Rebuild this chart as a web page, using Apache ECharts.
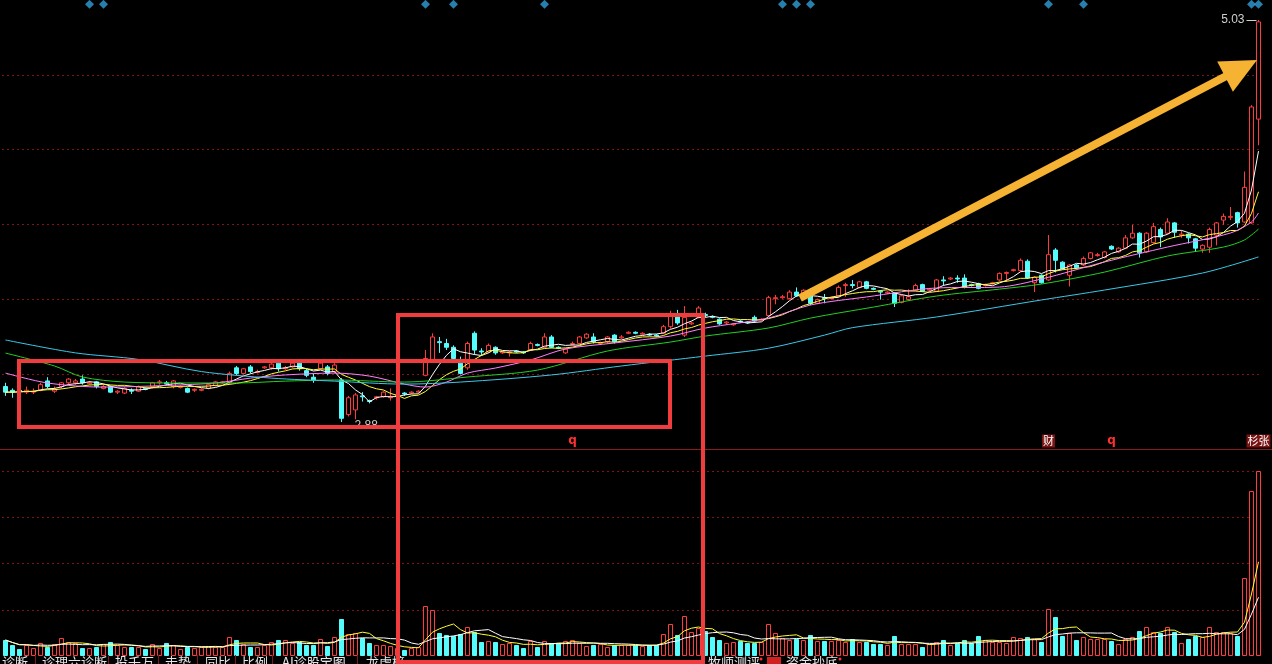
<!DOCTYPE html>
<html><head><meta charset="utf-8">
<script src="https://cdn.jsdelivr.net/npm/echarts@6/dist/echarts.min.js"></script>
<style>html,body{margin:0;padding:0;background:#000;overflow:hidden}#c{width:1272px;height:664px}</style>
</head><body><div id="c"></div>
<script>
// ---- price data (open / close / low / high) ----
const opens = [3.07,3.05,3.05,3.04,3.04,3.05,3.10,3.045,3.07,3.09,3.09,3.11,3.085,3.095,3.06,3.07,3.04,3.035,3.05,3.045,
3.06,3.07,3.09,3.09,3.07,3.065,3.06,3.05,3.05,3.06,3.075,3.09,3.09,3.17,3.14,3.175,3.145,3.17,3.17,3.195,
3.165,3.175,3.195,3.155,3.12,3.165,3.175,3.15,3.105,2.92,2.945,3.02,2.995,3.01,3.015,3.01,3.02,3.035,3.035,3.04,
3.13,3.215,3.31,3.30,3.28,3.195,3.17,3.355,3.26,3.255,3.28,3.25,3.25,3.26,3.255,3.265,3.295,3.28,3.335,3.28,
3.25,3.295,3.30,3.33,3.335,3.30,3.31,3.345,3.33,3.355,3.36,3.35,3.35,3.345,3.355,3.39,3.45,3.345,3.405,3.44,
3.455,3.445,3.43,3.41,3.40,3.42,3.415,3.44,3.425,3.45,3.54,3.545,3.54,3.575,3.545,3.585,3.515,3.545,3.54,3.555,
3.61,3.615,3.60,3.63,3.595,3.58,3.57,3.57,3.52,3.535,3.585,3.615,3.585,3.58,3.64,3.645,3.65,3.65,3.615,3.62,
3.61,3.62,3.64,3.675,3.69,3.69,3.74,3.625,3.665,3.64,3.80,3.735,3.665,3.72,3.72,3.755,3.77,3.76,3.82,3.79,
3.81,3.865,3.89,3.79,3.84,3.91,3.89,3.945,3.88,3.885,3.86,3.805,3.815,3.88,3.96,3.975,4.00,3.95,3.945,4.50];
const closes = [3.04,3.04,3.045,3.05,3.045,3.08,3.07,3.055,3.09,3.11,3.10,3.09,3.09,3.07,3.07,3.04,3.045,3.06,3.045,3.07,
3.055,3.09,3.095,3.085,3.10,3.07,3.04,3.055,3.055,3.08,3.095,3.095,3.14,3.14,3.165,3.15,3.15,3.175,3.19,3.165,
3.17,3.195,3.165,3.13,3.105,3.195,3.14,3.185,2.90,3.01,3.025,3.015,2.99,3.015,3.04,3.015,3.025,3.03,3.04,3.045,
3.22,3.335,3.305,3.28,3.22,3.14,3.30,3.265,3.255,3.29,3.25,3.255,3.255,3.255,3.25,3.30,3.29,3.335,3.28,3.275,
3.27,3.30,3.335,3.35,3.31,3.305,3.335,3.31,3.335,3.36,3.355,3.355,3.345,3.34,3.39,3.45,3.41,3.44,3.41,3.49,
3.45,3.44,3.405,3.415,3.405,3.415,3.41,3.42,3.43,3.545,3.545,3.55,3.575,3.555,3.585,3.515,3.535,3.54,3.545,3.60,
3.615,3.61,3.63,3.595,3.59,3.575,3.575,3.515,3.555,3.55,3.61,3.58,3.59,3.64,3.635,3.65,3.645,3.60,3.61,3.595,
3.615,3.625,3.675,3.68,3.695,3.745,3.65,3.655,3.625,3.775,3.745,3.70,3.72,3.705,3.755,3.785,3.775,3.79,3.805,3.81,
3.865,3.89,3.785,3.89,3.925,3.87,3.95,3.895,3.885,3.865,3.81,3.825,3.91,3.945,3.98,3.98,3.945,4.135,4.565,5.02];
const lows = [3.02,3.01,3.03,3.03,3.03,3.045,3.06,3.035,3.06,3.08,3.08,3.08,3.08,3.06,3.055,3.035,3.03,3.03,3.03,3.04,
3.05,3.06,3.08,3.08,3.06,3.06,3.035,3.04,3.045,3.055,3.07,3.085,3.08,3.13,3.135,3.14,3.14,3.165,3.16,3.15,
3.16,3.17,3.155,3.12,3.09,3.16,3.13,3.14,2.88,2.91,2.895,2.99,2.98,3.00,3.01,2.995,3.01,3.02,3.03,3.035,
3.125,3.21,3.25,3.265,3.21,3.135,3.16,3.24,3.235,3.25,3.24,3.245,3.23,3.25,3.245,3.26,3.285,3.275,3.275,3.27,
3.245,3.29,3.295,3.325,3.30,3.295,3.30,3.30,3.325,3.35,3.35,3.345,3.34,3.335,3.35,3.38,3.40,3.335,3.40,3.435,
3.44,3.435,3.40,3.40,3.395,3.41,3.405,3.41,3.42,3.445,3.51,3.54,3.535,3.55,3.54,3.505,3.51,3.515,3.535,3.55,
3.55,3.595,3.595,3.59,3.585,3.535,3.565,3.495,3.515,3.53,3.58,3.575,3.58,3.575,3.61,3.64,3.625,3.595,3.605,3.59,
3.605,3.615,3.635,3.63,3.685,3.685,3.645,3.575,3.62,3.635,3.68,3.695,3.605,3.70,3.715,3.75,3.765,3.755,3.80,3.785,
3.805,3.86,3.76,3.785,3.835,3.815,3.885,3.865,3.865,3.835,3.79,3.785,3.785,3.825,3.935,3.96,3.92,3.945,3.94,4.36];
const highs = [3.09,3.06,3.06,3.07,3.06,3.09,3.12,3.07,3.095,3.115,3.11,3.13,3.10,3.10,3.08,3.075,3.05,3.065,3.06,3.075,
3.065,3.095,3.105,3.10,3.105,3.075,3.065,3.06,3.06,3.085,3.10,3.10,3.15,3.18,3.17,3.185,3.16,3.18,3.195,3.205,
3.18,3.20,3.20,3.165,3.14,3.21,3.185,3.195,3.115,3.02,3.035,3.04,3.00,3.02,3.045,3.06,3.03,3.04,3.045,3.05,
3.265,3.355,3.335,3.325,3.29,3.23,3.31,3.365,3.275,3.30,3.285,3.26,3.26,3.265,3.26,3.31,3.30,3.355,3.345,3.285,
3.275,3.31,3.34,3.355,3.355,3.31,3.34,3.35,3.345,3.365,3.365,3.36,3.355,3.35,3.40,3.475,3.48,3.50,3.415,3.50,
3.465,3.45,3.435,3.42,3.41,3.425,3.42,3.45,3.435,3.555,3.56,3.56,3.585,3.60,3.59,3.595,3.54,3.565,3.55,3.61,
3.625,3.64,3.635,3.635,3.60,3.585,3.58,3.575,3.56,3.59,3.62,3.62,3.595,3.645,3.66,3.655,3.665,3.67,3.62,3.625,
3.62,3.63,3.68,3.685,3.70,3.755,3.75,3.66,3.67,3.88,3.81,3.74,3.725,3.725,3.765,3.79,3.785,3.795,3.825,3.815,
3.88,3.935,3.895,3.895,3.945,3.92,3.97,3.95,3.905,3.89,3.865,3.83,3.92,3.95,3.995,4.03,4.005,4.22,4.575,5.03];

// ---- volume ----
const volumes = [16,11,7,11,8,13,9,12,18,14,13,8,8,9,12,14,11,9,9,9,
7,12,8,13,11,7,9,8,9,10,9,9,19,16,12,9,9,11,14,16,
16,13,14,11,11,17,10,19,37,22,23,18,13,11,11,10,8,6,8,9,
50,46,23,21,20,22,29,24,14,15,14,12,13,11,8,15,9,15,13,13,
15,16,13,10,11,12,9,11,11,11,11,10,11,11,22,32,21,40,24,28,
25,19,16,13,14,15,13,13,14,32,23,18,16,17,16,21,15,15,15,16,
14,17,14,14,12,12,11,20,12,12,12,9,12,14,16,11,13,16,13,20,
16,14,14,13,19,18,19,17,14,47,39,20,23,16,19,17,17,17,15,12,
17,19,25,29,24,23,29,24,13,17,20,19,29,24,24,23,20,78,165,185];

// ---- longer moving averages: [dayIndex, price] ----
const ma20Pts = [[0,3.142],[6,3.089],[14,3.067],[21,3.073],[30,3.089],[35,3.115],[40,3.132],[47,3.142],[52,3.126],[57,3.083],[60,3.067],[63,3.094],[66,3.142],[70,3.169],[75,3.212],[80,3.271],[87,3.303],[95,3.340],[100,3.383],[109,3.436],[115,3.506],[123,3.549],[133,3.597],[142,3.602],[148,3.645],[157,3.736],[166,3.816],[175,3.891],[178,3.950],[179,3.998]];
const ma60Pts = [[0,3.249],[7,3.180],[11,3.121],[17,3.094],[25,3.089],[33,3.089],[40,3.099],[47,3.105],[57,3.094],[66,3.121],[76,3.158],[86,3.260],[95,3.308],[100,3.340],[109,3.383],[115,3.436],[124,3.495],[133,3.554],[142,3.591],[148,3.618],[157,3.682],[166,3.768],[174,3.816],[177,3.854],[179,3.912]];
const ma120Pts = [[0,3.319],[10,3.250],[19,3.215],[28,3.150],[38,3.115],[47,3.099],[57,3.083],[65,3.094],[78,3.132],[88,3.180],[100,3.233],[109,3.275],[117,3.345],[121,3.385],[133,3.442],[148,3.533],[157,3.586],[171,3.677],[179,3.763]];

// ---- signal markers ----
const diamondDays = [12,14,60,64,77,111,113,115,149,154,178,179];
const diamondLevel = 5.114;
const tabLabels = ['诊断','诊理六诊断','投千万','走势','同比','比例','AI诊股宝图','龙虎榜'];
const tabLabelsRight = ['牧师测评','资金抄底'];

const categories = opens.map((_, i) => String(i + 1));
function movingAvg(arr, n) {
  return arr.map((_, i) => {
    const s = Math.max(0, i - n + 1); let sum = 0;
    for (let k = s; k <= i; k++) sum += arr[k];
    return +(sum / (i - s + 1)).toFixed(4);
  });
}
const ma5 = movingAvg(closes, 5), ma10 = movingAvg(closes, 10);
const vma5 = movingAvg(volumes, 5), vma10 = movingAvg(volumes, 10);

const UP = '#ff3c3c', DOWN = '#54fcfc';
const candles = opens.map((o, i) => [o, closes[i], lows[i], highs[i]]);
const volBars = volumes.map((v, i) => ({
  value: v,
  itemStyle: closes[i] >= opens[i] ? {color: '#000', borderColor: UP, borderWidth: 1} : {color: DOWN, borderColor: DOWN, borderWidth: 1}
}));

const chart = echarts.init(document.getElementById('c'));
const lineBase = {type: 'line', showSymbol: false, symbol: 'none', silent: true, z: 5};
chart.setOption({
  backgroundColor: '#000',
  animation: false,
  grid: [
    {left: 2, width: 1260, top: 0, height: 449},
    {left: 2, width: 1260, top: 471, height: 185}
  ],
  xAxis: [
    {type: 'category', gridIndex: 0, data: categories, show: false, boundaryGap: true},
    {type: 'category', gridIndex: 1, data: categories, show: false, boundaryGap: true}
  ],
  yAxis: [
    {type: 'value', gridIndex: 0, min: 2.736, max: 5.137, show: false, splitLine: {show: false}},
    {type: 'value', gridIndex: 0, min: 0, max: 6, interval: 1,
      axisLine: {show: false}, axisTick: {show: false}, axisLabel: {show: false},
      splitLine: {show: true, showMinLine: false, showMaxLine: false, lineStyle: {color: '#7a1616', type: [2, 3], width: 1}}},
    {type: 'value', gridIndex: 1, min: 0, max: 185, interval: 46.25,
      axisLine: {show: false}, axisTick: {show: false}, axisLabel: {show: false},
      splitLine: {show: true, showMinLine: false, lineStyle: {color: '#7a1616', type: [2, 3], width: 1}}}
  ],
  series: [
    {type: 'candlestick', xAxisIndex: 0, yAxisIndex: 0, data: candles, barWidth: 5, z: 3,
      itemStyle: {color: '#000', color0: DOWN, borderColor: UP, borderColor0: DOWN, borderWidth: 1}},
    Object.assign({}, lineBase, {name: 'MA5', data: ma5, lineStyle: {color: '#ffffff', width: 1}}),
    Object.assign({}, lineBase, {name: 'MA10', data: ma10, lineStyle: {color: '#ffff33', width: 1}}),
    Object.assign({}, lineBase, {name: 'MA20', data: ma20Pts, smooth: 0.3, lineStyle: {color: '#ff80ff', width: 1}}),
    Object.assign({}, lineBase, {name: 'MA60', data: ma60Pts, smooth: 0.3, lineStyle: {color: '#22d022', width: 1}}),
    Object.assign({}, lineBase, {name: 'MA120', data: ma120Pts, smooth: 0.3, lineStyle: {color: '#3cc8e8', width: 1}}),
    {type: 'scatter', xAxisIndex: 0, yAxisIndex: 0, symbol: 'diamond', symbolSize: [9, 9], silent: true, clip: false,
      itemStyle: {color: '#2f9fd8'}, data: diamondDays.map(d => [d, diamondLevel]), z: 6},
    {type: 'bar', xAxisIndex: 1, yAxisIndex: 2, data: volBars, barWidth: 5, z: 3},
    Object.assign({}, lineBase, {xAxisIndex: 1, yAxisIndex: 2, data: vma5, lineStyle: {color: '#ffff33', width: 1}}),
    Object.assign({}, lineBase, {xAxisIndex: 1, yAxisIndex: 2, data: vma10, lineStyle: {color: '#ffffff', width: 1}})
  ]
});

// ---- annotations ----
const toPx = (i, v) => chart.convertToPixel({xAxisIndex: 0, yAxisIndex: 0}, [i, v]);
const hiIdx = highs.indexOf(Math.max.apply(null, highs));
const loIdx = lows.indexOf(Math.min.apply(null, lows));
const hiP = toPx(hiIdx, highs[hiIdx]);
const loP = toPx(loIdx, lows[loIdx]);
const g = [];
g.push({type: 'line', shape: {x1: 0, y1: 449.5, x2: 1272, y2: 449.5}, style: {stroke: '#8c1c1c', lineWidth: 1}, z: 10});
g.push({type: 'text', x: hiP[0] - 14, y: hiP[1], style: {text: highs[hiIdx].toFixed(2), fill: '#cfcfcf', font: '12px "Liberation Sans", Arial', align: 'right', verticalAlign: 'middle'}, z: 20});
g.push({type: 'line', shape: {x1: hiP[0] - 12, y1: hiP[1] + 0.5, x2: hiP[0] - 2, y2: hiP[1] + 0.5}, style: {stroke: '#cfcfcf', lineWidth: 1}, z: 20});
g.push({type: 'text', x: loP[0] + 13, y: loP[1] + 4, style: {text: lows[loIdx].toFixed(2), fill: '#c8c8c8', font: '12px "Liberation Sans", Arial', align: 'left', verticalAlign: 'middle'}, z: 20});
function sigLabel(day, txt, opt) {
  const p = toPx(day, 3);
  g.push({type: 'text', x: p[0], y: 441, style: Object.assign({text: txt, align: 'center', verticalAlign: 'middle'}, opt), z: 20});
}
sigLabel(81, 'q', {fill: '#ff3030', font: 'bold 12px "DejaVu Sans"'});
sigLabel(158, 'q', {fill: '#ff3030', font: 'bold 12px "DejaVu Sans"'});
sigLabel(149, '财', {fill: '#ffffff', font: '11px "Noto Sans CJK SC"', backgroundColor: '#7a1414', padding: [1, 1]});
sigLabel(178.6, '杉张', {fill: '#ffffff', font: '11px "Noto Sans CJK SC"', backgroundColor: '#7a1414', padding: [1, 1]});
g.push({type: 'rect', shape: {x: 19, y: 361, width: 651, height: 66}, style: {fill: null, stroke: '#f03c3c', lineWidth: 4}, z: 30});
g.push({type: 'rect', shape: {x: 398, y: 315, width: 305, height: 347}, style: {fill: null, stroke: '#f03c3c', lineWidth: 4}, z: 30});
const T = [800, 298], P = [1257, 60];
const dx = P[0] - T[0], dy = P[1] - T[1], len = Math.sqrt(dx * dx + dy * dy);
const ux = dx / len, uy = dy / len, nx = -uy, ny = ux;
const L = 36, W = 17;
const B = [P[0] - L * ux, P[1] - L * uy];
g.push({type: 'line', shape: {x1: T[0], y1: T[1], x2: B[0] + 2 * ux, y2: B[1] + 2 * uy}, style: {stroke: '#f6b232', lineWidth: 8, lineCap: 'butt'}, z: 31});
g.push({type: 'polygon', shape: {points: [P, [B[0] + W * nx, B[1] + W * ny], [B[0] - W * nx, B[1] - W * ny]]}, style: {fill: '#f6b232'}, z: 31});
const tabX = [2, 42, 115, 165, 205, 242, 282, 366];
const sepX = [35, 108, 158, 197, 235, 272, 357];
const tabFont = '13px "Noto Sans CJK SC"';
tabLabels.forEach((t, k) => g.push({type: 'text', x: tabX[k], y: 656, style: {text: t, fill: '#e6e6e6', font: tabFont, verticalAlign: 'top'}, z: 25}));
sepX.forEach(x => g.push({type: 'line', shape: {x1: x + 0.5, y1: 655, x2: x + 0.5, y2: 664}, style: {stroke: '#7a1a1a', lineWidth: 1}, z: 25}));
g.push({type: 'text', x: 708, y: 656, style: {text: tabLabelsRight[0], fill: '#e6e6e6', font: tabFont, verticalAlign: 'top'}, z: 25});
g.push({type: 'circle', shape: {cx: 761, cy: 659, r: 1.5}, style: {fill: '#ff3030'}, z: 25});
g.push({type: 'rect', shape: {x: 767, y: 657, width: 14, height: 8}, style: {fill: '#d02020'}, z: 25});
g.push({type: 'text', x: 786, y: 656, style: {text: tabLabelsRight[1], fill: '#e6e6e6', font: tabFont, verticalAlign: 'top'}, z: 25});
g.push({type: 'circle', shape: {cx: 840, cy: 659, r: 1.5}, style: {fill: '#ff3030'}, z: 25});
chart.setOption({graphic: g});
</script>
</body></html>
